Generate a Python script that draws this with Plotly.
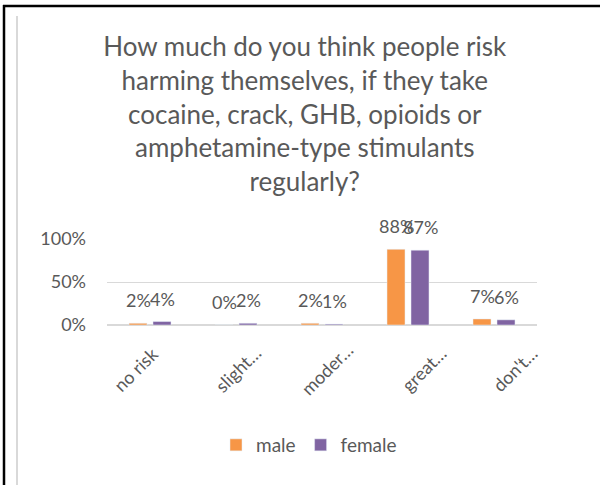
import plotly.graph_objects as go

categories = ["no risk", "slight…", "moder…", "great…", "don't…"]
male = [2, 0, 2, 88, 7]
female = [4, 2, 1, 87, 6]
male_labels = ["2%", "0%", "2%", "88%", "7%"]
female_labels = ["4%", "2%", "1%", "87%", "6%"]

title_text = ("How much do you think people risk<br>harming themselves, if they take<br>"
              "cocaine, crack, GHB, opioids or<br>amphetamine-type stimulants<br>regularly?")

ORANGE = "#F79646"
PURPLE = "#8064A2"
GREY_TXT = "#595959"
FONT = "Lato"

# Excel places truncated category labels a bit off-centre; per-label nudge (px)
cat_label_dx = [-14, 2, 5, 16, 21]

fig = go.Figure()
fig.add_trace(go.Bar(x=categories, y=male, name="male", marker_color=ORANGE))
fig.add_trace(go.Bar(x=categories, y=female, name="female", marker_color=PURPLE))

# plot area in pixels: x 107..537, y 239..325
L, R, T, B = 107, 63, 239, 160
pw, ph = 600 - L - R, 485 - T - B


def px_x(p):
    return (p - L) / pw


def px_y(p):
    return (485 - B - p) / ph


# data labels sit well above the bars, like the Excel original
annotations = []
for cat, v, t in zip(categories, male, male_labels):
    annotations.append(dict(x=cat, y=v, text=t, xshift=-12, yshift=23, showarrow=False,
                            yanchor="middle", font=dict(size=18, color=GREY_TXT, family=FONT)))
for cat, v, t in zip(categories, female, female_labels):
    annotations.append(dict(x=cat, y=v, text=t, xshift=12, yshift=23, showarrow=False,
                            yanchor="middle", font=dict(size=18, color=GREY_TXT, family=FONT)))
# rotated category labels
for cat, dx in zip(categories, cat_label_dx):
    annotations.append(dict(x=cat, y=px_y(369), yref="paper", text=cat, textangle=-45,
                            xshift=dx, showarrow=False, xanchor="center", yanchor="middle",
                            font=dict(size=18, color=GREY_TXT, family=FONT)))

shapes = [
    dict(type="line", xref="paper", yref="paper", x0=px_x(4), x1=px_x(4), y0=px_y(5), y1=px_y(490),
         line=dict(color="black", width=2.5)),
    dict(type="line", xref="paper", yref="paper", x0=px_x(3), x1=px_x(605), y0=px_y(6), y1=px_y(6),
         line=dict(color="black", width=2.5)),
    dict(type="line", xref="paper", yref="paper", x0=px_x(17), x1=px_x(17), y0=px_y(16), y1=px_y(490),
         line=dict(color="#D9D9D9", width=2)),
]

fig.update_layout(
    width=600, height=485,
    margin=dict(l=L, r=R, t=T, b=B),
    paper_bgcolor="white", plot_bgcolor="white",
    barmode="group", bargap=0.442, bargroupgap=0.25,
    font=dict(family=FONT, color=GREY_TXT),
    title=dict(text=title_text, x=0.508, xanchor="center", xref="container",
               y=1 - 56 / 485, yanchor="top", yref="container",
               font=dict(size=26, color=GREY_TXT, family=FONT)),
    xaxis=dict(showticklabels=False, showgrid=False, showline=False, ticks="",
               automargin=False, range=[-0.5, 4.5]),
    yaxis=dict(range=[0, 100], tickvals=[0, 50, 100], ticktext=["0%", "50%", "100%"],
               tickfont=dict(size=18, color=GREY_TXT), gridcolor="#D9D9D9", gridwidth=1,
               zeroline=True, zerolinecolor="#D9D9D9", showline=False, ticks="", ticklen=0,
               ticklabelstandoff=20, automargin=False),
    legend=dict(orientation="h", x=px_x(309), xanchor="center", y=px_y(445), yanchor="middle",
                font=dict(size=19, color=GREY_TXT), itemwidth=30),
    annotations=annotations,
    shapes=shapes,
)
fig.update_traces(cliponaxis=False)

fig.write_html("out.html", config={"displayModeBar": False},
               post_script="document.body.style.margin='0';")
